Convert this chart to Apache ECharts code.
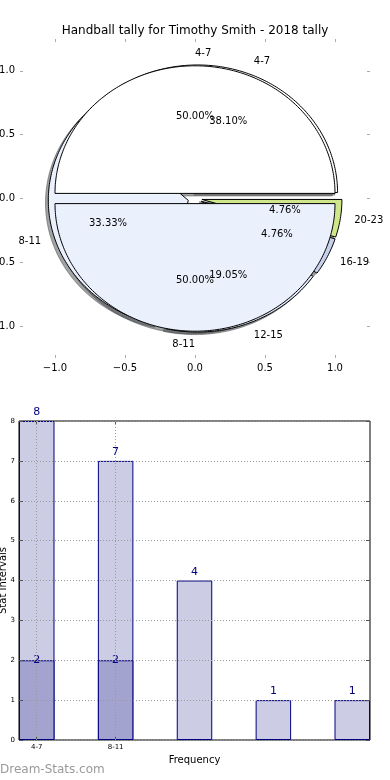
<!DOCTYPE html>
<html><head><meta charset="utf-8">
<script src="https://cdn.jsdelivr.net/npm/echarts/dist/echarts.min.js"></script>
<style>html,body{margin:0;padding:0;background:#fff;}#chart{width:390px;height:780px;}</style>
</head><body><div id="chart"></div>
<script>
// ---- data ----
const chartTitle = 'Handball tally for Timothy Smith - 2018 tally';
const outerPieLabels = ['4-7', '8-11'];
const outerPieValues = [2, 2];
const innerPieLabels = ['4-7', '8-11', '12-15', '16-19', '20-23'];
const innerPieValues = [8, 7, 4, 1, 1];
const pieAxisTicks = [-1, -0.5, 0, 0.5, 1];
const barCategories = ['4-7', '8-11', '12-15', '16-19', '20-23'];
const barValues = [8, 7, 4, 1, 1];
const barOverlayValues = [2, 2];
const barTickLabels = ['4-7', '8-11'];
const barYTicks = [0, 1, 2, 3, 4, 5, 6, 7, 8];

// ---- styles ----
const FONT = 'DejaVu Sans';
const outerPieColors = ['#ffffff', '#eaf0fc'];
const innerPieColors = ['#ffffff', '#eaf0fc', '#dfe6f5', '#c6d0ea', '#d0e68a'];
const OUTER_EXPLODE = 0.04, INNER_EXPLODE = 0.05;

function buildWedges(values, labels, colors, explode) {
  const total = values.reduce((a, b) => a + b, 0);
  let acc = 0;
  return values.map((v, i) => {
    const t1 = acc / total; acc += v; const t2 = acc / total;
    const thetam = Math.PI * (t1 + t2);
    return {
      a0: 2 * Math.PI * t1, a1: 2 * Math.PI * t2, thetam,
      cx: explode * Math.cos(thetam), cy: explode * Math.sin(thetam),
      label: labels[i], pct: (100 * v / total).toFixed(2) + '%', color: colors[i]
    };
  });
}
const innerWedges = buildWedges(innerPieValues, innerPieLabels, innerPieColors, INNER_EXPLODE);
const outerWedges = buildWedges(outerPieValues, outerPieLabels, outerPieColors, OUTER_EXPLODE);
const allWedges = innerWedges.concat(outerWedges);

function wedgePoints(api, cx, cy, a0, a1) {
  const pts = [api.coord([cx, cy])];
  const n = Math.max(2, Math.ceil((a1 - a0) / (Math.PI / 180)));
  for (let k = 0; k <= n; k++) {
    const a = a0 + (a1 - a0) * k / n;
    pts.push(api.coord([cx + Math.cos(a), cy + Math.sin(a)]));
  }
  return pts;
}
function darken(hex) {
  const r = parseInt(hex.slice(1, 3), 16), g = parseInt(hex.slice(3, 5), 16), b = parseInt(hex.slice(5, 7), 16);
  return 'rgba(' + Math.round(r * 0.3) + ',' + Math.round(g * 0.3) + ',' + Math.round(b * 0.3) + ',0.5)';
}
function wedgeSeries(list, z, shadow) {
  return {
    type: 'custom', xAxisIndex: 0, yAxisIndex: 0, z: z, silent: true,
    data: list.map(w => [w.cx, w.cy]),
    renderItem: function (params, api) {
      const w = list[params.dataIndex];
      const off = shadow ? -0.02 : 0;
      return {
        type: 'polygon',
        shape: { points: wedgePoints(api, w.cx + off, w.cy + off, w.a0, w.a1) },
        style: shadow ? { fill: darken(w.color), stroke: darken(w.color), lineWidth: 1 }
                      : { fill: w.color, stroke: '#000', lineWidth: 1 }
      };
    }
  };
}
const labelSeries = {
  type: 'custom', xAxisIndex: 0, yAxisIndex: 0, z: 10, silent: true,
  data: allWedges.map(w => [w.cx, w.cy]),
  renderItem: function (params, api) {
    const w = allWedges[params.dataIndex];
    const xt = w.cx + 1.1 * Math.cos(w.thetam), yt = w.cy + 1.1 * Math.sin(w.thetam);
    const xp = w.cx + 0.6 * Math.cos(w.thetam), yp = w.cy + 0.6 * Math.sin(w.thetam);
    const pl = api.coord([xt, yt]), pp = api.coord([xp, yp]);
    const al = xt > 0 ? 'left' : 'right';
    return {
      type: 'group', children: [
        { type: 'text', x: pl[0], y: pl[1], style: { text: w.label, fill: '#000', font: '10px "DejaVu Sans"', align: al, textAlign: al, verticalAlign: 'middle', textVerticalAlign: 'middle' } },
        { type: 'text', x: pp[0], y: pp[1], style: { text: w.pct, fill: '#000', font: '10px "DejaVu Sans"', align: 'center', textAlign: 'center', verticalAlign: 'middle', textVerticalAlign: 'middle' } }
      ]
    };
  }
};

const fmtTick = v => (v < 0 ? '\u2212' : '') + Math.abs(v).toFixed(1);
const noLine = { show: false, onZero: false };
const pieTick = { show: true, inside: true, length: 3, lineStyle: { color: '#aaaaaa', width: 1 }, customValues: pieAxisTicks };
const pieLabel = { customValues: pieAxisTicks, formatter: fmtTick, fontSize: 10, fontFamily: FONT, color: '#000', margin: 5 };

const barTickPos = barTickLabels.map((_, i) => i);
const BAR_GRID_W = 351;
const X_MIN = -0.225, X_MAX = barCategories.length - 1 + 0.225;
const BAR_W = BAR_GRID_W * 0.45 / (X_MAX - X_MIN);
const barTick = { show: true, inside: true, length: 4, lineStyle: { color: '#555', width: 1 } };

const option = {
  backgroundColor: '#fff',
  animation: false,
  title: { text: chartTitle, left: 'center', top: 20, textStyle: { fontSize: 12, fontWeight: 'normal', fontFamily: FONT, color: '#000' } },
  grid: [
    { left: 20, top: 39, width: 350, height: 319, containLabel: false, outerBoundsMode: 'none' },
    { left: 19, top: 421, width: BAR_GRID_W, height: 319, containLabel: false, outerBoundsMode: 'none', show: true, borderColor: '#000', borderWidth: 1, backgroundColor: 'transparent' }
  ],
  xAxis: [
    { gridIndex: 0, type: 'value', min: -1.25, max: 1.25, position: 'bottom', axisLine: noLine, axisTick: pieTick, axisLabel: pieLabel, splitLine: { show: false } },
    { gridIndex: 0, type: 'value', min: -1.25, max: 1.25, position: 'top', axisLine: noLine, axisTick: pieTick, axisLabel: { show: false }, splitLine: { show: false } },
    { gridIndex: 1, type: 'value', min: X_MIN, max: X_MAX, position: 'bottom', z: 6,
      axisLine: noLine, axisTick: Object.assign({ customValues: barTickPos }, barTick),
      axisLabel: { customValues: barTickPos, formatter: v => barTickLabels[Math.round(v)], fontSize: 7, fontFamily: FONT, color: '#000', margin: 4 },
      splitLine: { show: false },
      name: 'Frequency', nameLocation: 'middle', nameGap: 15, nameMoveOverlap: false, nameTextStyle: { fontSize: 10, fontFamily: FONT, color: '#000' } },
    { gridIndex: 1, type: 'value', min: X_MIN, max: X_MAX, position: 'top', z: 6, axisLine: noLine, axisTick: Object.assign({ customValues: barTickPos }, barTick), axisLabel: { show: false }, splitLine: { show: false } }
  ],
  yAxis: [
    { gridIndex: 0, type: 'value', min: -1.25, max: 1.25, position: 'left', axisLine: noLine, axisTick: pieTick, axisLabel: pieLabel, splitLine: { show: false } },
    { gridIndex: 0, type: 'value', min: -1.25, max: 1.25, position: 'right', axisLine: noLine, axisTick: pieTick, axisLabel: { show: false }, splitLine: { show: false } },
    { gridIndex: 1, type: 'value', min: barYTicks[0], max: barYTicks[barYTicks.length - 1], interval: 1, position: 'left', z: 6,
      axisLine: noLine, axisTick: barTick,
      axisLabel: { fontSize: 7, fontFamily: FONT, color: '#000', margin: 4 },
      splitLine: { show: true, lineStyle: { type: [1, 2], color: '#999', width: 1 } },
      name: 'Stat Intervals', nameLocation: 'middle', nameGap: 11, nameMoveOverlap: false, nameTextStyle: { fontSize: 10, fontFamily: FONT, color: '#000' } },
    { gridIndex: 1, type: 'value', min: barYTicks[0], max: barYTicks[barYTicks.length - 1], interval: 1, position: 'right', z: 6,
      axisLine: noLine, axisTick: barTick, axisLabel: { show: false }, splitLine: { show: false } }
  ],
  series: [
    wedgeSeries(allWedges, 1, true),
    wedgeSeries(innerWedges, 2, false),
    wedgeSeries(outerWedges, 3, false),
    labelSeries,
    { type: 'bar', xAxisIndex: 2, yAxisIndex: 2, z: 2, barWidth: BAR_W, barGap: '-100%',
      data: barValues.map((v, i) => [i, v]),
      itemStyle: { color: '#ccccE5', borderColor: '#000080', borderWidth: 1 },
      label: { show: true, position: 'top', distance: 3, color: '#000080', fontSize: 11, fontFamily: FONT },
      markLine: { silent: true, symbol: 'none', z: 7, label: { show: false },
        lineStyle: { type: [1, 2], color: '#999', width: 1 },
        data: barTickPos.map(v => ({ xAxis: v })) } },
    { type: 'bar', xAxisIndex: 2, yAxisIndex: 2, z: 3, barWidth: BAR_W, barGap: '-100%',
      data: barOverlayValues.map((v, i) => [i, v]),
      itemStyle: { color: '#a3a3d0', borderColor: '#000080', borderWidth: 1 },
      label: { show: true, position: 'top', distance: 0, offset: [0, 5], color: '#000080', fontSize: 11, fontFamily: FONT } }
  ],
  graphic: [
    { type: 'text', left: 0, top: 764, style: { text: 'Dream-Stats.com', font: '12px "DejaVu Sans"', fill: '#9a9a9a' } }
  ]
};
const chart = echarts.init(document.getElementById('chart'), null, { renderer: 'canvas' });
chart.setOption(option);
</script></body></html>
